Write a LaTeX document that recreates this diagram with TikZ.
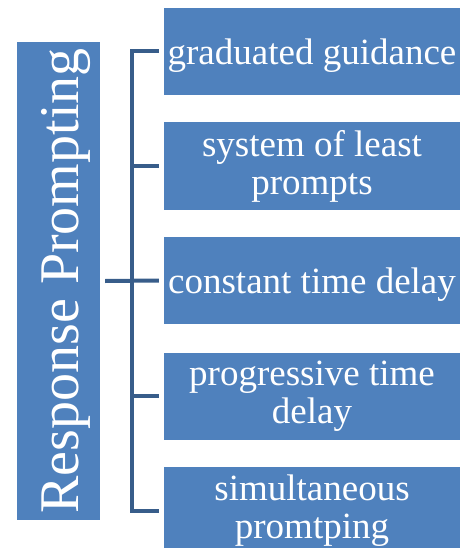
\documentclass[tikz,border=0pt]{standalone}
\usepackage{fontspec}
\setmainfont{Liberation Serif}
\definecolor{boxblue}{HTML}{4F81BD}
\definecolor{lineblue}{HTML}{385D8A}
\begin{document}
\begin{tikzpicture}[x=1pt,y=-1pt,
  itembox/.style={fill=boxblue, text=white, inner sep=0pt, minimum width=296pt,
    minimum height=87pt, align=center, font=\fontsize{37}{38}\selectfont},
  oneline/.style={text height=29pt, text depth=3pt},
  mainbox/.style={fill=boxblue, text=white, inner sep=0pt, rotate=90,
    minimum width=478pt, minimum height=83pt, text height=45pt, text depth=6pt,
    font=\fontsize{56}{60}\selectfont},
  conn/.style={draw=lineblue, line width=4pt}]
\useasboundingbox (0,0) rectangle (473,548);
\clip (0,0) rectangle (473,548);
\node[mainbox] (L) at (58.5,281) {Response Prompting};
\node[itembox, oneline] (b1) at (312,51.5) {graduated guidance};
\node[itembox] (b2) at (312,166) {system of least\\prompts};
\node[itembox, oneline] (b3) at (312,280.5) {constant time delay};
\node[itembox] (b4) at (312,396) {progressive time\\delay};
\node[itembox] (b5) at (312,510.5) {simultaneous\\promtping};
\coordinate (sp) at (132,0);
\draw[conn] ([xshift=-5pt]b1.west) -| (sp|-b5.west) -- ([xshift=-5pt]b5.west);
\draw[conn] (sp|-b2.west) -- ([xshift=-5pt]b2.west);
\draw[conn] (sp|-b4.west) -- ([xshift=-5pt]b4.west);
\draw[conn] ([xshift=5pt]L.south) -- ([xshift=-5pt]b3.west);
\end{tikzpicture}
\end{document}
